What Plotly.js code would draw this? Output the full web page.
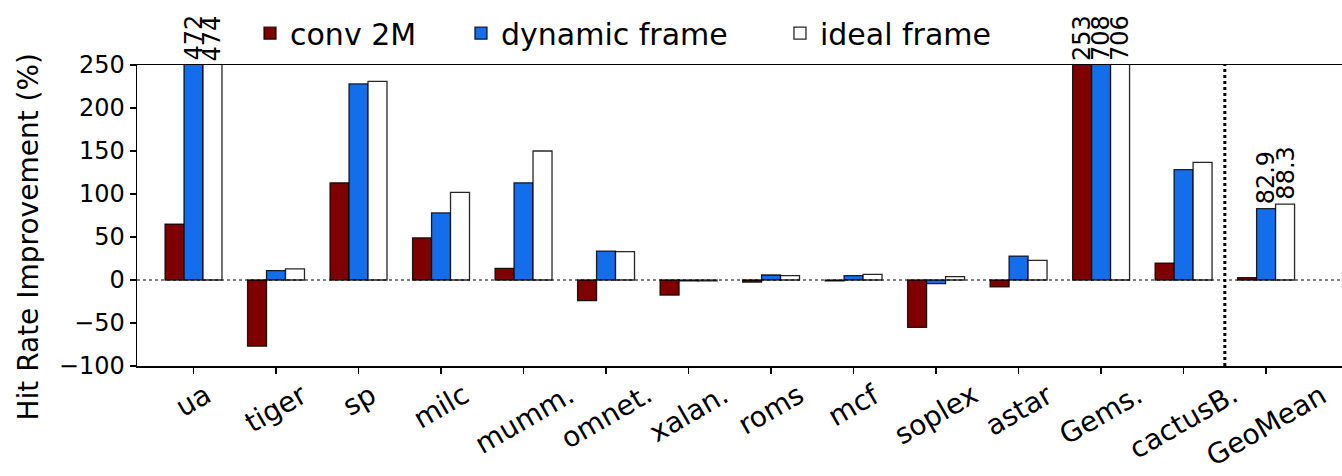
<!DOCTYPE html>
<html>
<head>
<meta charset="utf-8">
<script src="https://cdn.plot.ly/plotly-3.0.1.min.js"></script>
<style>html,body{margin:0;padding:0;background:#fff;}#chart{width:1342px;height:476px;}</style>
</head>
<body>
<div id="chart"></div>
<script>
const categories = ["ua","tiger","sp","milc","mumm.","omnet.","xalan.","roms","mcf","soplex","astar","Gems.","cactusB.","GeoMean"];
const conv2M      = [65, -77, 113, 49, 13.5, -24, -17.5, -2.5, -1, -55, -8, 253, 19.7, 2.8];
const dynamicFrame= [472, 11, 228, 78, 113, 33.6, -1, 5.8, 5, -4.2, 27.8, 708, 128.3, 82.9];
const idealFrame  = [474, 13, 231, 102, 150, 33, -1, 5, 6.5, 4, 22.8, 706, 136.7, 88.3];
const seriesNames = ["conv 2M","dynamic frame","ideal frame"];
const seriesColors = ["#7f0000","#146eeb","#ffffff"];
const yTitle = "Hit Rate Improvement (%)";
// value labels drawn on top of these bars: [series index, category index]
const labelled = [[1,0],[2,0],[0,11],[1,11],[2,11],[1,13],[2,13]];
const yRange = [-100, 250];
const yTicks = [-100,-50,0,50,100,150,200,250];

const FONT = "DejaVu Sans, sans-serif";
const allSeries = [conv2M, dynamicFrame, idealFrame];
const xIdx = categories.map((c,i)=>i);
const legendIds = ['legend','legend2','legend3'];
const legendX = [0.1863, 0.3435, 0.5812];

const traces = allSeries.map((vals,k)=>({
  type:'bar', name: seriesNames[k], x: xIdx, y: vals, legend: legendIds[k],
  marker:{color: seriesColors[k], line:{color:'rgba(0,0,0,0.85)', width:1.3}},
  hoverinfo:'skip'
}));

const barW = 0.23;
const annotations = [];
labelled.forEach(([k,i])=>{
  const v = allSeries[k][i];
  annotations.push({
    x: i + (k-1)*barW, y: Math.min(v, yRange[1]), xref:'x', yref:'y',
    text: String(v), showarrow:false, textangle:-90,
    xanchor:'center', yanchor:'bottom', yshift:2,
    font:{family:FONT, size:24, color:'#000'}
  });
});
categories.forEach((c,i)=>{
  annotations.push({
    x: i, y: 0, xref:'x', yref:'paper', text: c, showarrow:false,
    textangle:-30, xanchor:'center', yanchor:'top', yshift:-9,
    font:{family:FONT, size:28, color:'#000'}
  });
});
// y-axis title
annotations.push({
  x: 0, y: 0.43, xref:'paper', yref:'paper', text: yTitle, showarrow:false,
  textangle:-90, xanchor:'center', yanchor:'middle', xshift:-108,
  font:{family:FONT, size:28, color:'#000'}
});

const layout = {
  width:1342, height:476,
  margin:{l:137, r:0, t:65, b:110},
  paper_bgcolor:'#fff', plot_bgcolor:'#fff',
  barmode:'group', bargap:0.31, bargroupgap:0,
  showlegend:true,
  xaxis:{type:'linear', range:[-0.685, 13.92], tickvals:xIdx, ticktext:categories, showticklabels:false,
         ticks:'outside', ticklen:6, tickwidth:1.5, tickcolor:'#000',
         showline:true, linecolor:'#000', linewidth:1.5, mirror:true, showgrid:false, zeroline:false},
  yaxis:{range:yRange, tickvals:yTicks, ticks:'outside', ticklen:6, tickwidth:1.5, tickcolor:'#000',
         showline:true, linecolor:'#000', linewidth:1.5, showgrid:false, zeroline:false,
         tickfont:{family:FONT, size:24, color:'#000'}},
  shapes:[
    {type:'line', xref:'paper', yref:'y', x0:0, x1:1, y0:0, y1:0, line:{color:'#000', width:1, dash:'dot'}, layer:'above'},
    {type:'line', xref:'x', yref:'paper', x0:12.5, x1:12.5, y0:0, y1:1, line:{color:'#000', width:3, dash:'dot'}, layer:'above'}
  ],
  annotations: annotations,
  font:{family:FONT, color:'#000'}
};
legendIds.forEach((id,k)=>{
  layout[id] = {orientation:'h', xref:'container', yref:'container', x:legendX[k], y:0.985,
    xanchor:'left', yanchor:'top', font:{family:FONT, size:30, color:'#000'}, itemwidth:30,
    bgcolor:'rgba(0,0,0,0)'};
});

Plotly.newPlot('chart', traces, layout, {displayModeBar:false, staticPlot:true});
</script>
</body>
</html>
